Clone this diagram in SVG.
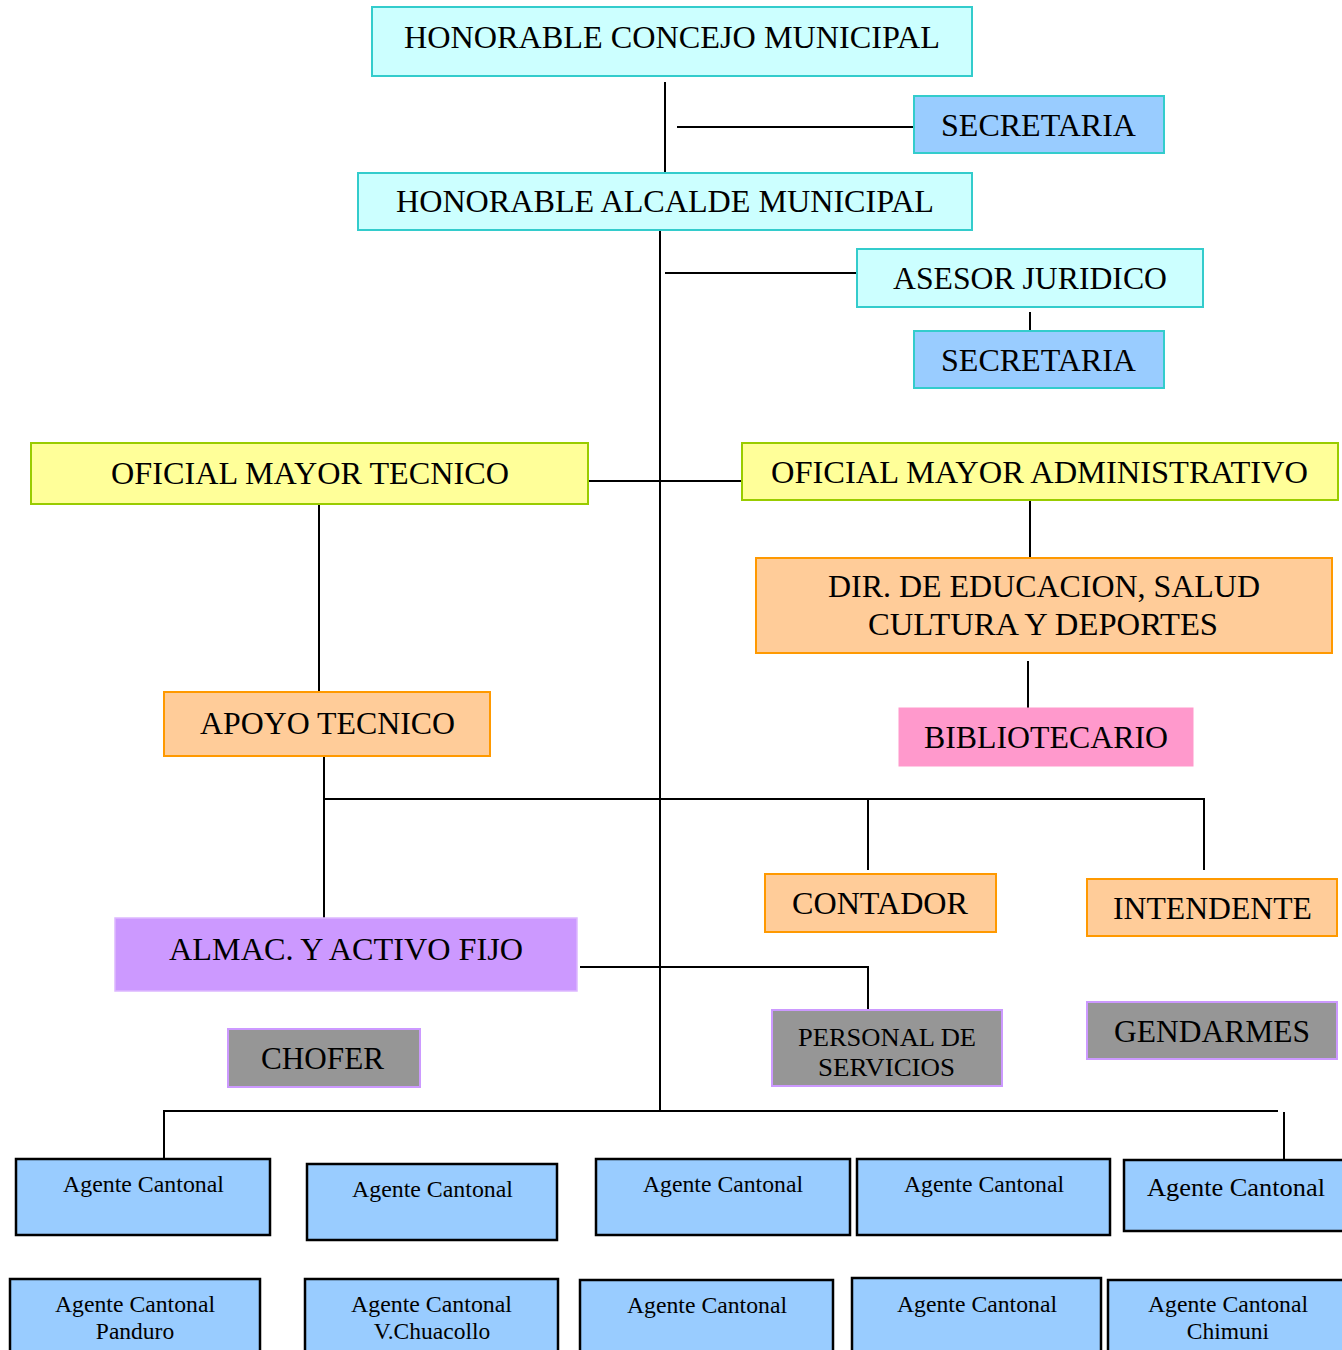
<svg xmlns="http://www.w3.org/2000/svg" width="1342" height="1350" viewBox="0 0 1342 1350">
<style>
text{font-family:'Liberation Serif','Times New Roman',Times,serif;fill:#000;text-anchor:middle}
.t{font-size:31px}
.s{font-size:26px}
.a{font-size:23.5px}
.turq{fill:#CCFFFF;stroke:#33CCCC;stroke-width:2}
.blue{fill:#99CCFF;stroke:#33CCCC;stroke-width:2}
.yel{fill:#FFFF99;stroke:#99CC00;stroke-width:2}
.org{fill:#FFCC99;stroke:#FF9900;stroke-width:2}
.pink{fill:#FF99CC;stroke:#FF99CC;stroke-width:1}
.pur{fill:#CC99FF;stroke:#DDB8FF;stroke-width:1.5}
.gray{fill:#969696;stroke:#CC99FF;stroke-width:2}
.ag{fill:#99CCFF;stroke:#000;stroke-width:2.5}
.c{stroke:#000;stroke-width:2;fill:none}
</style>
<rect width="1342" height="1350" fill="#fff"/>
<g id="connectors">
<line class="c" x1="665" y1="82" x2="665" y2="177"/>
<line class="c" x1="677" y1="127" x2="920" y2="127"/>
<line class="c" x1="660" y1="224" x2="660" y2="1111"/>
<line class="c" x1="665" y1="273" x2="857" y2="273"/>
<line class="c" x1="1030" y1="312" x2="1030" y2="331"/>
<line class="c" x1="588" y1="481" x2="742" y2="481"/>
<line class="c" x1="1030" y1="500" x2="1030" y2="558"/>
<line class="c" x1="1028" y1="661" x2="1028" y2="708"/>
<line class="c" x1="319" y1="502" x2="319" y2="692"/>
<line class="c" x1="324" y1="752" x2="324" y2="918"/>
<polyline class="c" points="324,799 1204,799 1204,870"/>
<line class="c" x1="868" y1="799" x2="868" y2="870"/>
<polyline class="c" points="580,967 868,967 868,1014"/>
<polyline class="c" points="164,1159 164,1111 1278,1111"/>
<line class="c" x1="1284" y1="1112" x2="1284" y2="1160"/>
</g>
<g font-family="Liberation Serif, Times New Roman, serif">
<g id="concejo"><rect class="turq" x="372" y="7" width="600" height="69"/><text class="t" x="672" y="48" textLength="536" lengthAdjust="spacingAndGlyphs">HONORABLE CONCEJO MUNICIPAL</text></g>
<g id="secretaria1"><rect class="blue" x="914" y="96" width="250" height="57"/><text class="t" x="1038.5" y="136" textLength="195" lengthAdjust="spacingAndGlyphs">SECRETARIA</text></g>
<g id="alcalde"><rect class="turq" x="358" y="173" width="614" height="57"/><text class="t" x="665" y="212" textLength="538" lengthAdjust="spacingAndGlyphs">HONORABLE ALCALDE MUNICIPAL</text></g>
<g id="asesor"><rect class="turq" x="857" y="249" width="346" height="58"/><text class="t" x="1030" y="289" textLength="274" lengthAdjust="spacingAndGlyphs">ASESOR JURIDICO</text></g>
<g id="secretaria2"><rect class="blue" x="914" y="331" width="250" height="57"/><text class="t" x="1038.5" y="371" textLength="195" lengthAdjust="spacingAndGlyphs">SECRETARIA</text></g>
<g id="omt"><rect class="yel" x="31" y="443" width="557" height="61"/><text class="t" x="310" y="484" textLength="398" lengthAdjust="spacingAndGlyphs">OFICIAL MAYOR TECNICO</text></g>
<g id="oma"><rect class="yel" x="742" y="443" width="596" height="57"/><text class="t" x="1039.5" y="483" textLength="537" lengthAdjust="spacingAndGlyphs">OFICIAL MAYOR ADMINISTRATIVO</text></g>
<g id="dir"><rect class="org" x="756" y="558" width="576" height="95"/><text class="t" x="1044" y="597" textLength="432" lengthAdjust="spacingAndGlyphs">DIR. DE EDUCACION, SALUD</text><text class="t" x="1043" y="635" textLength="350" lengthAdjust="spacingAndGlyphs">CULTURA Y DEPORTES</text></g>
<g id="biblio"><rect class="pink" x="899" y="708" width="294" height="58"/><text class="t" x="1046" y="748" textLength="244" lengthAdjust="spacingAndGlyphs">BIBLIOTECARIO</text></g>
<g id="apoyo"><rect class="org" x="164" y="692" width="326" height="64"/><text class="t" x="327.5" y="734" textLength="255" lengthAdjust="spacingAndGlyphs">APOYO TECNICO</text></g>
<g id="contador"><rect class="org" x="765" y="874" width="231" height="58"/><text class="t" x="880" y="914" textLength="176" lengthAdjust="spacingAndGlyphs">CONTADOR</text></g>
<g id="intendente"><rect class="org" x="1087" y="879" width="250" height="57"/><text class="t" x="1212.5" y="919" textLength="199" lengthAdjust="spacingAndGlyphs">INTENDENTE</text></g>
<g id="almac"><rect class="pur" x="115" y="918" width="462" height="73"/><text class="t" x="346" y="960" textLength="354" lengthAdjust="spacingAndGlyphs">ALMAC. Y ACTIVO FIJO</text></g>
<g id="chofer"><rect class="gray" x="228" y="1029" width="192" height="58"/><text class="t" x="322.5" y="1069" textLength="123" lengthAdjust="spacingAndGlyphs">CHOFER</text></g>
<g id="personal"><rect class="gray" x="772" y="1010" width="230" height="76"/><text class="s" x="887" y="1046" textLength="178" lengthAdjust="spacingAndGlyphs">PERSONAL DE</text><text class="s" x="886.5" y="1076" textLength="137" lengthAdjust="spacingAndGlyphs">SERVICIOS</text></g>
<g id="gendarmes"><rect class="gray" x="1087" y="1002" width="250" height="57"/><text class="t" x="1212" y="1042" textLength="196" lengthAdjust="spacingAndGlyphs">GENDARMES</text></g>
<g id="ag1"><rect class="ag" x="16" y="1159" width="254" height="76"/><text class="a" x="143.5" y="1192" textLength="161" lengthAdjust="spacingAndGlyphs">Agente Cantonal</text></g>
<g id="ag2"><rect class="ag" x="307" y="1164" width="250" height="76"/><text class="a" x="432.5" y="1197" textLength="161" lengthAdjust="spacingAndGlyphs">Agente Cantonal</text></g>
<g id="ag3"><rect class="ag" x="596" y="1159" width="254" height="76"/><text class="a" x="723" y="1192" textLength="160" lengthAdjust="spacingAndGlyphs">Agente Cantonal</text></g>
<g id="ag4"><rect class="ag" x="857" y="1159" width="253" height="76"/><text class="a" x="984" y="1192" textLength="160" lengthAdjust="spacingAndGlyphs">Agente Cantonal</text></g>
<g id="ag5"><rect class="ag" x="1124" y="1160" width="230" height="71"/><text class="a" x="1236" y="1196" style="font-size:26px" textLength="178" lengthAdjust="spacingAndGlyphs">Agente Cantonal</text></g>
<g id="ag6"><rect class="ag" x="10" y="1279" width="250" height="80"/><text class="a" x="135" y="1312" textLength="160" lengthAdjust="spacingAndGlyphs">Agente Cantonal</text><text class="a" x="135" y="1339">Panduro</text></g>
<g id="ag7"><rect class="ag" x="305" y="1279" width="253" height="80"/><text class="a" x="431.5" y="1312" textLength="161" lengthAdjust="spacingAndGlyphs">Agente Cantonal</text><text class="a" x="432" y="1339">V.Chuacollo</text></g>
<g id="ag8"><rect class="ag" x="580" y="1280" width="253" height="80"/><text class="a" x="707" y="1313" textLength="160" lengthAdjust="spacingAndGlyphs">Agente Cantonal</text></g>
<g id="ag9"><rect class="ag" x="852" y="1278" width="249" height="80"/><text class="a" x="977" y="1312" textLength="160" lengthAdjust="spacingAndGlyphs">Agente Cantonal</text></g>
<g id="ag10"><rect class="ag" x="1108" y="1280" width="250" height="80"/><text class="a" x="1228" y="1312" textLength="160" lengthAdjust="spacingAndGlyphs">Agente Cantonal</text><text class="a" x="1228" y="1339">Chimuni</text></g>
</g>
</svg>
